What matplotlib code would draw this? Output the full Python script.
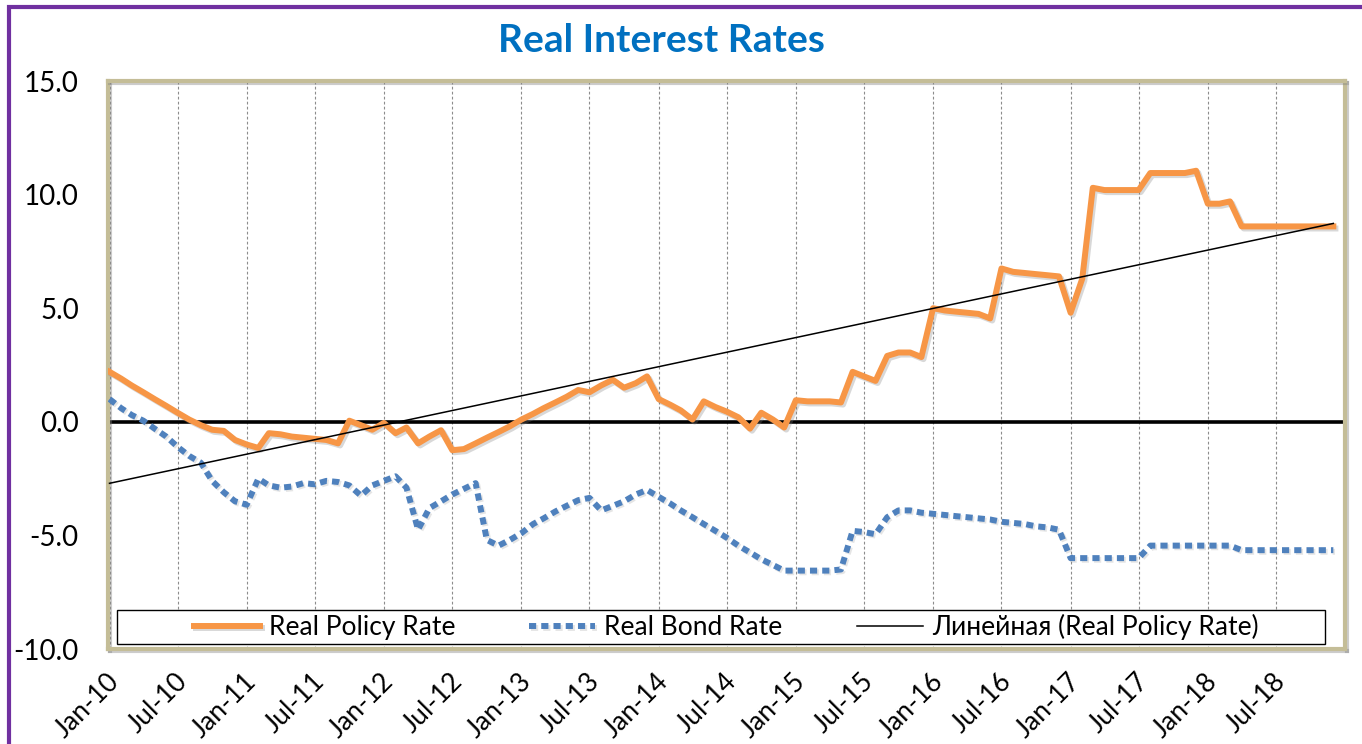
import numpy as np
import pandas as pd
import matplotlib
matplotlib.use("Agg")
import matplotlib.pyplot as plt
import matplotlib.dates as mdates
import matplotlib.patheffects as pe
from matplotlib.patches import Rectangle
from matplotlib.transforms import ScaledTranslation

plt.rcParams['font.family'] = ['Lato', 'Open Sans', 'DejaVu Sans']

# monthly data, Jan-2010 .. Dec-2018
months = pd.date_range("2010-01-01", periods=108, freq="MS")

policy_rate = [
    2.2, 1.9, 1.6, 1.3, 1.0, 0.7, 0.4, 0.1, -0.15, -0.35, -0.4, -0.8,
    -1.0, -1.15, -0.5, -0.55, -0.65, -0.7, -0.75, -0.8, -0.95, 0.05, -0.15, -0.35,
    -0.05, -0.5, -0.25, -0.95, -0.65, -0.37, -1.25, -1.2, -0.95, -0.7, -0.45, -0.2,
    0.1, 0.35, 0.6, 0.85, 1.1, 1.4, 1.3, 1.6, 1.85, 1.5, 1.7, 2.0,
    1.0, 0.75, 0.5, 0.1, 0.9, 0.65, 0.45, 0.2, -0.3, 0.4, 0.1, -0.25,
    0.95, 0.9, 0.9, 0.9, 0.85, 2.2, 2.0, 1.8, 2.9, 3.05, 3.05, 2.85,
    5.0, 4.9, 4.85, 4.8, 4.75, 4.55, 6.75, 6.6, 6.55, 6.5, 6.45, 6.4,
    4.8, 6.3, 10.3, 10.2, 10.2, 10.2, 10.2, 10.95, 10.95, 10.95, 10.95, 11.05,
    9.6, 9.6, 9.7, 8.6, 8.6, 8.6, 8.6, 8.6, 8.6, 8.6, 8.6, 8.6,
]

bond_rate = [
    1.0, 0.6, 0.3, 0.05, -0.3, -0.65, -1.1, -1.5, -1.8, -2.6, -3.1, -3.5,
    -3.65, -2.5, -2.8, -2.9, -2.85, -2.7, -2.75, -2.6, -2.65, -2.8, -3.25, -2.8,
    -2.6, -2.4, -2.9, -4.75, -3.8, -3.5, -3.2, -2.95, -2.7, -5.2, -5.45, -5.2,
    -4.9, -4.5, -4.25, -3.95, -3.7, -3.45, -3.35, -3.9, -3.7, -3.5, -3.2, -3.0,
    -3.3, -3.6, -3.9, -4.2, -4.5, -4.8, -5.1, -5.45, -5.75, -6.05, -6.3, -6.55,
    -6.55, -6.55, -6.55, -6.55, -6.5, -4.8, -4.85, -4.95, -4.2, -3.9, -3.9, -4.0,
    -4.05, -4.1, -4.15, -4.2, -4.25, -4.3, -4.4, -4.45, -4.5, -4.6, -4.65, -4.75,
    -6.0, -6.0, -6.0, -6.0, -6.0, -6.0, -6.0, -5.45, -5.45, -5.45, -5.45, -5.45,
    -5.45, -5.45, -5.45, -5.65, -5.65, -5.65, -5.65, -5.65, -5.65, -5.65, -5.65, -5.65,
]

tick_months = pd.date_range("2010-01-01", "2018-07-01", freq="6MS")
tick_labels = [d.strftime("%b-%y") for d in tick_months]
y_ticks = [-10, -5, 0, 5, 10, 15]

# linear trend of the policy rate (as Excel's "Linear" trendline)
xnum = mdates.date2num(months)
coef = np.polyfit(xnum, policy_rate, 1)
trend = np.polyval(coef, xnum)

orange = "#F79646"
blue = "#4F81BD"
frame_col = "#C4BD97"

fig = plt.figure(figsize=(13.62, 7.44), dpi=100)
ax = fig.add_axes([108 / 1362, 1 - 649 / 744, (1345 - 108) / 1362, (649 - 81) / 744])

shadow = [pe.SimpleLineShadow(offset=(1.5, -1.5), shadow_color="gray", alpha=0.3), pe.Normal()]
shadow_dots = [pe.SimpleLineShadow(offset=(1.2, -1.2), shadow_color="gray", alpha=0.2), pe.Normal()]

ax.axhline(0, color="black", lw=2.6, zorder=2)
l1, = ax.plot(months, policy_rate, color=orange, lw=4.3, solid_joinstyle="round",
              label="Real Policy Rate", zorder=4, path_effects=shadow)
l2, = ax.plot(months, bond_rate, color=blue, lw=4.3, linestyle=(0, (1.2, 0.85)),
              dash_capstyle="butt", label="Real Bond Rate", zorder=4, path_effects=shadow_dots)
l3, = ax.plot(months, trend, color="black", lw=1.1, label="Линейная (Real Policy Rate)", zorder=5)

ax.set_ylim(-10, 15)
ax.set_xlim(months[0] - pd.Timedelta(days=4), pd.Timestamp("2019-01-01"))
ax.set_yticks(y_ticks)
ax.set_yticklabels([f"{v:.1f}" for v in y_ticks])
ax.set_xticks(tick_months)
ax.set_xticklabels(tick_labels)
ax.tick_params(axis="y", length=0, pad=21, labelsize=20)
ax.tick_params(axis="x", length=0, pad=6, labelsize=19)
for lab in ax.get_xticklabels():
    lab.set_rotation(45)
    lab.set_ha("right")
    lab.set_va("center")
    lab.set_rotation_mode("anchor")
    lab.set_transform(lab.get_transform() + ScaledTranslation(0.06, -0.2, fig.dpi_scale_trans))

ax.grid(axis="x", color="#8c8c8c", linestyle=(0, (2.5, 2)), lw=0.8)
ax.set_axisbelow(True)
for s in ax.spines.values():
    s.set_color(frame_col)
    s.set_linewidth(3)
    s.set_path_effects([pe.SimpleLineShadow(offset=(1.5, -1.5), shadow_color="gray", alpha=0.4), pe.Normal()])

# legend box
ax.add_patch(Rectangle((0.0073, 0.0088), 0.9765, 0.06, transform=ax.transAxes,
                       facecolor="white", edgecolor="black", lw=1, zorder=6))
ax.legend(handles=[l1, l2, l3], loc="center", bbox_to_anchor=(0.4996, 0.0387),
          ncol=3, frameon=False, fontsize=19, handlelength=2.5, handletextpad=0.35,
          columnspacing=2.8).set_zorder(7)

fig.text(661 / 1362, 1 - 40 / 744, "Real Interest Rates", ha="center", va="center",
         fontsize=28, fontweight="bold", color="#0070C0")

fig.add_artist(Rectangle((9 / 1362, -0.1), 1.5, 1.1 - 7 / 744, transform=fig.transFigure,
                         fill=False, edgecolor="#7030A0", lw=3))

fig.savefig("out.png", dpi=100)
